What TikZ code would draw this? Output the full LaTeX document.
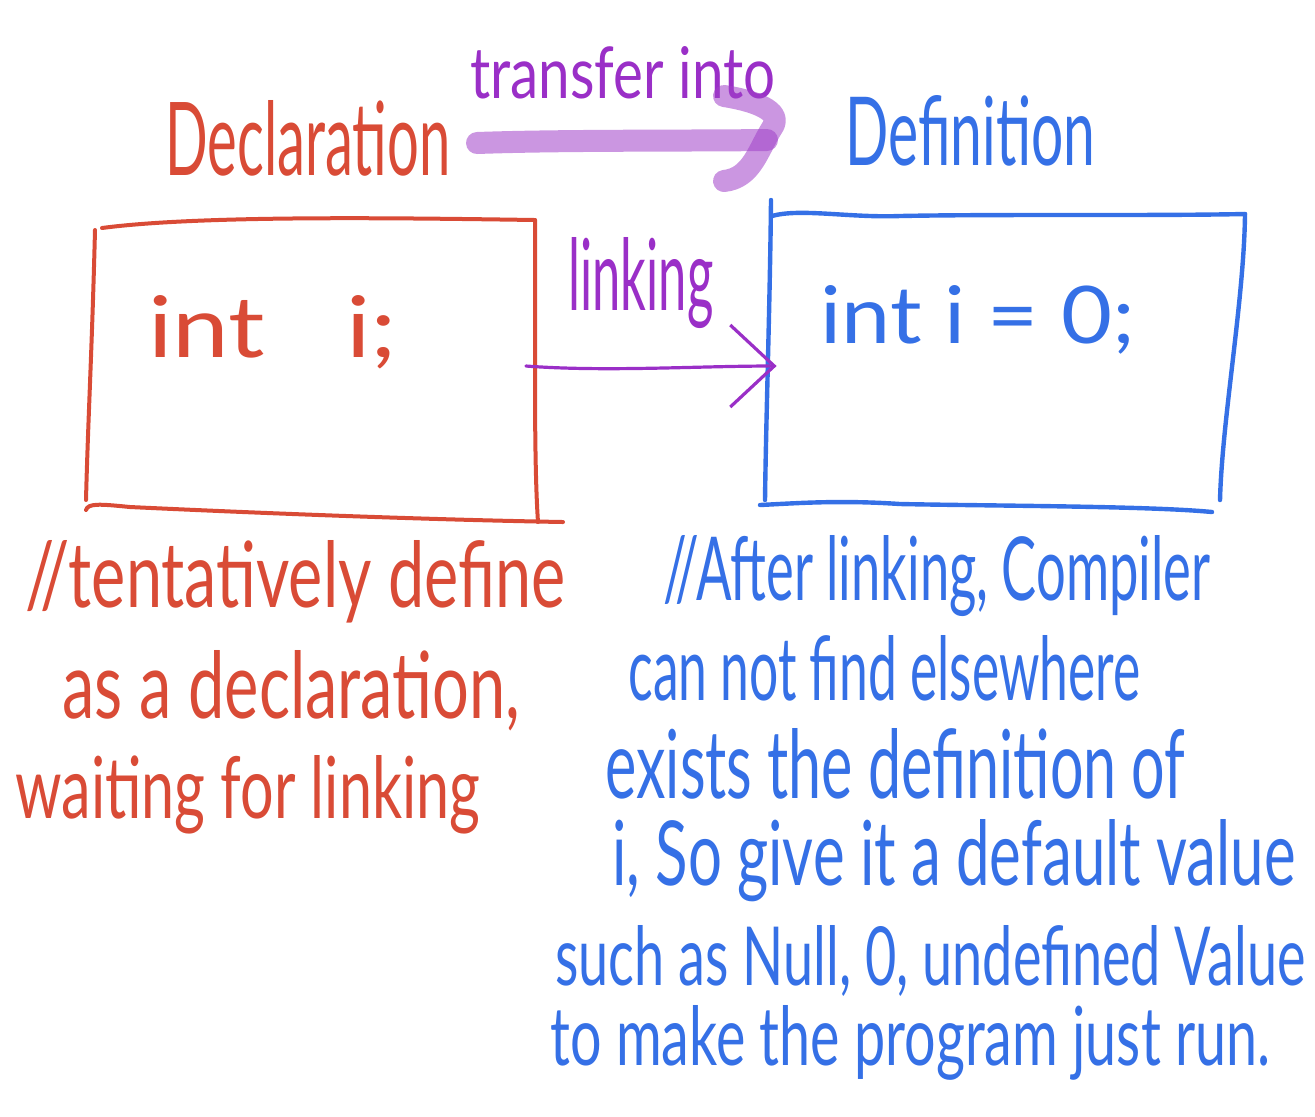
\documentclass[tikz,border=0pt]{standalone}
\usepackage{fontspec}
\setmainfont{Lato}
\usepackage{graphicx}
\usetikzlibrary{arrows.meta}
\definecolor{hred}{HTML}{D94B36}
\definecolor{hblue}{HTML}{3570E6}
\definecolor{hpurple}{HTML}{9A2FC7}
\definecolor{hlilac}{HTML}{A040C8}
\newlength\unitpx \setlength\unitpx{0.5pt}
\newcommand{\hw}[3]{\resizebox{#1\unitpx}{#2\unitpx}{#3}}
\begin{document}
\begin{tikzpicture}[x=0.5pt,y=-0.5pt,line cap=round,line join=round,
  redline/.style={draw=hred,line width=2pt},
  blueline/.style={draw=hblue,line width=2.2pt},
  linkarrow/.style={draw=hpurple,line width=1.6pt,-{Straight Barb[length=22pt,width=41pt,line width=1.6pt]}},
  bigarrow/.style={draw=hlilac,line width=11pt,opacity=0.55},
  txt/.style={anchor=base west,inner sep=0pt},
  boxframe/.style={inner sep=0pt,draw=none}]
\useasboundingbox (0,0) rectangle (1315,1116);

% headings
\node[txt,text=hpurple] (transfer) at (470,98) {\hw{305}{52}{transfer into}};
\node[txt,text=hred] (decl) at (165,175) {\hw{285}{75}{Declaration}};
\node[txt,text=hblue] (defn) at (845,165) {\hw{250}{70}{Definition}};

% big transfer arrow
\coordinate (bigA) at (477,143);
\coordinate (bigB) at (767,140);
\draw[bigarrow] (bigA) .. controls (560,140) and (680,141) .. (bigB);
\draw[bigarrow] (724,96) .. controls (750,100) and (785,110) .. (772,128) .. controls (758,150) and (752,178) .. (724,181);

% box frames (named)
\node[boxframe,minimum width=224.5pt,minimum height=150pt] (declbox) at (312,370) {};
\node[boxframe,minimum width=239pt,minimum height=149pt] (defbox) at (1006,359) {};

% red box hand-drawn
\draw[redline] (95,230) .. controls (92,350) and (88,420) .. (86,500);
\draw[redline] (102,228) .. controls (200,215) and (400,218) .. (535,220);
\draw[redline] (535,220) .. controls (536,300) and (533,450) .. (538,522);
\draw[redline] (86,510) .. controls (88,503) and (100,504) .. (130,507) .. controls (300,515) and (450,520) .. (563,522);

% blue box hand-drawn
\draw[blueline] (771,200) .. controls (770,300) and (766,420) .. (765,500);
\draw[blueline] (772,216) .. controls (800,208) and (850,218) .. (900,216) .. controls (1000,214) and (1150,216) .. (1245,214);
\draw[blueline] (1245,214) .. controls (1244,300) and (1222,420) .. (1220,500);
\draw[blueline] (760,505) .. controls (800,503) and (840,500) .. (900,504) .. controls (1000,506) and (1150,506) .. (1212,512);

% code
\node[txt,text=hred] (deccode) at (148,357) {\hw{249}{62}{int\hspace{0.8em}i;}};
\node[txt,text=hblue] (defcode) at (820,343) {\hw{315}{58}{int i = 0;}};

% linking
\node[txt,text=hpurple] (link) at (568,310) {\hw{145}{73}{linking}};
\draw[linkarrow] ([xshift=-5.5pt,yshift=2pt]declbox.east) .. controls +(80,6) and +(-80,0) .. ([xshift=5pt,yshift=-3.5pt]defbox.west);

% red comment
\node[txt,text=hred] (r1) at (25,607) {\hw{540}{67}{//tentatively define}};
\node[txt,text=hred] (r2) at (62,718) {\hw{458}{68}{as a declaration,}};
\node[txt,text=hred] (r3) at (15,818) {\hw{465}{63}{waiting for linking}};

% blue comment
\node[txt,text=hblue] (b1) at (663,600) {\hw{547}{65}{//After linking, Compiler}};
\node[txt,text=hblue] (b2) at (628,700) {\hw{512}{65}{can not find elsewhere}};
\node[txt,text=hblue] (b3) at (605,798) {\hw{580}{70}{exists the definition of}};
\node[txt,text=hblue] (b4) at (612,885) {\hw{683}{66}{i, So give it a default value}};
\node[txt,text=hblue] (b5) at (555,985) {\hw{750}{60}{such as Null, 0, undefined Value}};
\node[txt,text=hblue] (b6) at (550,1065) {\hw{720}{60}{to make the program just run.}};
\end{tikzpicture}
\end{document}
